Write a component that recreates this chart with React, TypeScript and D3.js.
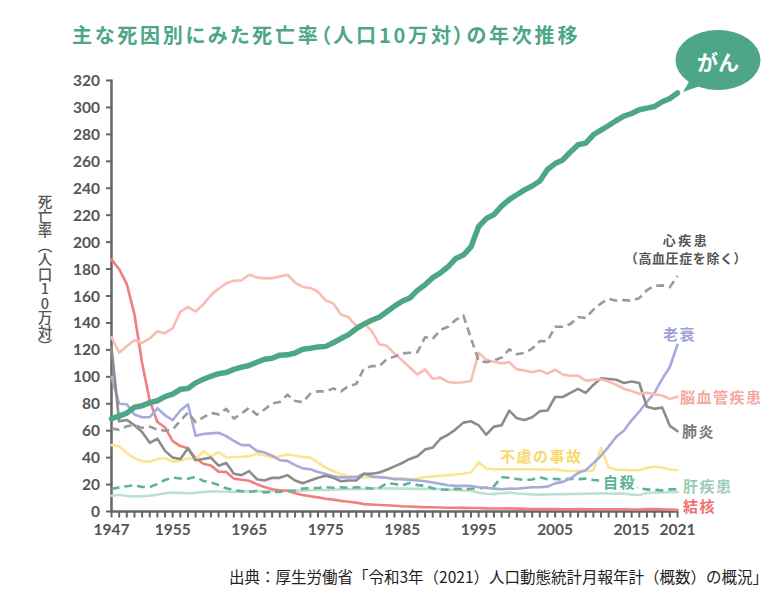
import React from 'react';
import * as d3 from 'd3';

const FIRST_YEAR = 1947;
const LAST_YEAR = 2021;
const years: number[] = d3.range(FIRST_YEAR, LAST_YEAR + 1);

const xTickLabels = [1947, 1955, 1965, 1975, 1985, 1995, 2005, 2015, 2021];
const yTickValues = [0, 20, 40, 60, 80, 100, 120, 140, 160, 180, 200, 220, 240, 260, 280, 300, 320];

const titleText = '主な死因別にみた死亡率（人口10万対）の年次推移';
const yLabelText = '死亡率（人口10万対）';
const sourceText = '出典：厚生労働省「令和3年（2021）人口動態統計月報年計（概数）の概況」';

// 悪性新生物（がん）
const cancer = [69.0, 70.8, 73.0, 77.4, 78.5, 80.8, 82.2, 85.3, 87.1, 90.7, 91.3, 95.5, 98.2, 100.4, 102.3, 103.2, 105.5, 107.2, 108.4, 110.8, 113.0, 113.8, 116.1, 116.3, 117.7, 120.4, 121.2, 122.2, 122.6, 125.3, 128.4, 131.3, 135.7, 139.1, 142.0, 144.2, 148.3, 152.5, 156.1, 158.5, 164.2, 168.4, 173.6, 177.2, 181.7, 187.8, 190.4, 196.4, 211.6, 217.5, 220.4, 226.7, 231.6, 235.2, 238.8, 241.7, 245.4, 253.9, 258.3, 261.0, 266.9, 272.3, 273.5, 279.7, 283.2, 286.6, 290.3, 293.5, 295.5, 298.3, 299.5, 300.7, 304.2, 306.6, 310.7];
// 心疾患（高血圧症を除く）
const heart = [61.7, 60.6, 63.3, 64.2, 62.1, 63.0, 60.8, 60.0, 60.9, 67.4, 73.4, 66.4, 69.8, 73.2, 72.1, 76.2, 69.0, 72.8, 77.0, 71.9, 75.7, 80.2, 81.3, 86.7, 82.0, 81.2, 87.5, 89.2, 89.2, 91.3, 89.2, 93.2, 94.6, 106.2, 107.9, 107.9, 113.0, 115.0, 117.3, 117.9, 118.4, 129.4, 128.1, 134.8, 137.2, 142.2, 145.6, 128.6, 112.0, 110.8, 112.2, 114.3, 120.4, 116.8, 117.8, 121.0, 126.5, 126.5, 137.2, 137.2, 139.2, 144.4, 143.7, 149.8, 154.5, 157.9, 156.5, 157.0, 156.5, 158.4, 164.3, 167.6, 167.9, 166.6, 174.9];
// 脳血管疾患
const cerebro = [129.4, 117.9, 122.6, 127.1, 125.2, 128.5, 133.7, 132.4, 136.1, 148.4, 151.7, 148.6, 153.7, 160.7, 165.4, 169.4, 171.4, 171.7, 175.8, 173.8, 173.1, 173.2, 174.4, 175.8, 170.0, 166.7, 166.0, 163.0, 156.7, 154.5, 146.2, 144.2, 137.7, 139.5, 134.3, 124.2, 123.0, 117.2, 112.2, 106.9, 101.7, 105.5, 98.5, 99.4, 96.2, 95.6, 96.0, 96.9, 117.9, 112.6, 111.0, 110.0, 110.8, 105.5, 104.7, 103.4, 104.7, 102.3, 105.3, 101.7, 100.8, 100.9, 97.2, 97.7, 98.2, 96.5, 94.1, 91.1, 89.4, 87.4, 88.2, 87.1, 86.1, 83.5, 85.2];
// 肺炎
const pneumonia = [122.0, 67.0, 68.0, 64.0, 59.0, 51.0, 54.0, 45.0, 40.0, 39.0, 47.0, 38.0, 39.0, 40.0, 34.0, 36.0, 28.0, 27.0, 30.0, 24.0, 23.0, 25.0, 25.0, 27.0, 23.0, 21.0, 23.0, 25.0, 26.5, 25.0, 22.5, 23.0, 23.0, 28.0, 28.0, 29.0, 31.0, 33.5, 36.0, 39.0, 41.0, 46.0, 47.5, 54.0, 57.0, 61.0, 66.0, 67.0, 64.0, 57.0, 63.0, 64.0, 74.9, 69.2, 68.0, 70.0, 74.5, 75.0, 85.0, 85.0, 88.0, 91.0, 88.0, 94.0, 98.9, 98.4, 97.8, 95.4, 96.5, 95.4, 77.7, 76.2, 77.2, 63.6, 59.6];
// 老衰
const senility = [100.0, 80.0, 79.6, 72.0, 70.0, 70.0, 76.6, 71.4, 67.8, 75.0, 79.6, 56.2, 57.5, 58.0, 58.5, 56.0, 52.5, 49.3, 49.3, 45.0, 43.8, 41.4, 38.1, 37.6, 34.4, 32.0, 31.4, 29.4, 27.8, 26.2, 25.3, 25.3, 25.5, 28.0, 26.0, 25.5, 25.0, 24.0, 24.0, 23.5, 23.0, 22.5, 21.5, 20.5, 19.5, 19.0, 19.0, 19.0, 18.0, 17.5, 17.0, 16.5, 17.0, 16.9, 17.5, 18.0, 18.0, 18.5, 20.9, 22.0, 24.4, 28.6, 30.7, 35.9, 41.4, 48.2, 55.5, 60.1, 67.7, 74.2, 81.3, 88.2, 98.5, 107.3, 123.8];
// 不慮の事故
const accidents = [49.3, 48.4, 43.5, 39.5, 37.5, 37.0, 39.0, 39.5, 37.0, 37.6, 39.5, 38.5, 44.9, 40.7, 44.2, 40.0, 40.5, 40.7, 41.1, 42.9, 41.6, 40.0, 41.0, 42.4, 41.6, 40.5, 40.0, 36.3, 32.6, 30.1, 27.6, 26.4, 25.7, 25.2, 25.2, 25.2, 25.0, 24.8, 24.6, 24.0, 24.5, 25.5, 26.0, 26.5, 27.0, 27.5, 28.0, 28.9, 36.5, 31.9, 31.4, 31.4, 31.4, 31.4, 31.4, 31.4, 31.2, 31.0, 31.6, 30.3, 30.1, 30.3, 30.0, 30.5, 47.1, 32.6, 31.0, 31.0, 30.6, 30.6, 32.4, 33.2, 32.7, 31.2, 30.8];
// 自殺
const suicide = [16.7, 17.9, 18.8, 19.6, 18.2, 18.2, 20.4, 23.4, 25.2, 24.5, 24.3, 25.7, 22.7, 21.6, 19.6, 17.2, 15.9, 15.1, 14.7, 15.2, 14.2, 14.5, 14.5, 15.3, 15.6, 17.0, 17.4, 17.5, 18.0, 17.6, 17.9, 17.6, 18.0, 17.7, 17.1, 17.5, 21.0, 20.4, 19.4, 21.2, 19.6, 19.1, 17.3, 16.4, 16.1, 16.9, 16.6, 16.9, 17.2, 17.8, 18.8, 25.4, 25.0, 24.1, 23.3, 23.8, 25.5, 24.0, 24.2, 23.7, 24.4, 24.0, 24.4, 23.4, 22.9, 21.0, 20.7, 19.5, 18.5, 17.3, 16.4, 16.1, 15.7, 16.4, 16.5];
// 肝疾患
const liver = [11.7, 12.5, 11.5, 11.2, 11.3, 11.8, 12.5, 13.5, 14.0, 13.8, 13.5, 13.8, 14.5, 14.8, 14.8, 14.7, 14.6, 14.8, 15.0, 15.0, 15.0, 15.2, 15.3, 15.4, 15.5, 15.5, 15.8, 16.0, 16.0, 16.2, 16.3, 16.5, 16.6, 16.7, 17.0, 17.2, 17.2, 17.1, 17.0, 16.9, 16.8, 16.8, 16.7, 16.7, 16.4, 16.0, 15.6, 15.4, 13.9, 13.2, 12.9, 13.5, 14.0, 13.4, 13.0, 12.6, 12.5, 12.6, 12.8, 12.9, 13.0, 13.1, 13.2, 13.4, 13.5, 13.4, 13.3, 13.3, 12.5, 12.3, 13.8, 14.1, 14.2, 14.3, 14.5];
// 結核
const tb = [187.2, 179.9, 168.8, 146.4, 110.3, 82.2, 66.5, 62.4, 52.3, 48.6, 46.9, 39.5, 35.4, 34.2, 29.6, 29.3, 24.4, 23.6, 22.8, 20.3, 18.2, 16.5, 15.8, 15.4, 13.5, 12.2, 11.3, 10.5, 9.5, 8.8, 7.9, 7.2, 6.6, 5.5, 5.2, 4.8, 4.6, 4.3, 3.9, 3.7, 3.4, 3.2, 3.1, 3.0, 2.8, 2.8, 2.7, 2.6, 2.6, 2.3, 2.2, 2.2, 2.3, 2.1, 2.0, 1.8, 1.9, 1.8, 1.8, 1.7, 1.7, 1.8, 1.7, 1.7, 1.7, 1.7, 1.7, 1.7, 1.5, 1.5, 1.8, 1.8, 1.7, 1.4, 1.2];

const seriesList = [
  { key: 'liver', values: liver, color: '#bde0d0', width: 2.6, dash: '' },
  { key: 'tb', values: tb, color: '#f27f7c', width: 2.6, dash: '' },
  { key: 'suicide', values: suicide, color: '#5db596', width: 2.6, dash: '8,5' },
  { key: 'accidents', values: accidents, color: '#fde58f', width: 2.6, dash: '' },
  { key: 'senility', values: senility, color: '#a7aadb', width: 2.6, dash: '' },
  { key: 'pneumonia', values: pneumonia, color: '#8c8c8c', width: 2.6, dash: '' },
  { key: 'cerebro', values: cerebro, color: '#f8bcb1', width: 2.6, dash: '' },
  { key: 'heart', values: heart, color: '#9a9a9a', width: 2.6, dash: '8,5' },
  { key: 'cancer', values: cancer, color: '#4da688', width: 5.5, dash: '' },
];

const labels = [
  { text: '老衰', x: 663, y: 340, color: '#9ea2d8', bg: false },
  { text: '脳血管疾患', x: 680, y: 403, color: '#f4a99f', bg: false },
  { text: '肺炎', x: 682, y: 437, color: '#7a7a7a', bg: false },
  { text: '不慮の事故', x: 500, y: 462, color: '#f9d96e', bg: false },
  { text: '自殺', x: 603, y: 488, color: '#5db596', bg: true },
  { text: '肝疾患', x: 683, y: 492, color: '#9acbb5', bg: false },
  { text: '結核', x: 683, y: 512, color: '#f0706d', bg: false },
];

const FONT = '"Noto Sans CJK JP", "Noto Sans", sans-serif';
const NUM_FONT = 'Lato, "Noto Sans", sans-serif';

export default function App() {
  const x = d3.scaleLinear().domain([FIRST_YEAR, LAST_YEAR]).range([111.5, 677.5]);
  const y = d3.scaleLinear().domain([0, 320]).range([511.5, 80.5]);
  const line = d3
    .line<number>()
    .x((_, i) => x(years[i]))
    .y((d) => y(d))
    .curve(d3.curveLinear);

  return (
    <svg
      width={782}
      height={604}
      style={{ position: 'absolute', left: 0, top: 0, background: '#fff' }}
      fontFamily={FONT}
    >
      <rect x={0} y={0} width={782} height={604} fill="#fff" />
      {/* Title */}
      <text
        x={72}
        y={43}
        fill="#4da688"
        fontSize={20}
        fontWeight={700}
        letterSpacing={2.8}
        style={{ fontFeatureSettings: '"palt"' }}
      >
        {titleText}
      </text>

      {/* Y axis label (vertical) */}
      <text
        x={45}
        y={274}
        fill="#555"
        fontSize={14.5}
        fontWeight={500}
        textAnchor="middle"
        style={{ writingMode: 'vertical-rl', textOrientation: 'upright' } as React.CSSProperties}
      >
        {yLabelText}
      </text>

      {/* Y axis */}
      <line x1={111.5} x2={111.5} y1={y(320) - 1} y2={y(0) + 1} stroke="#666" strokeWidth={2.5} />
      {yTickValues.map((v) => (
        <g key={v}>
          <line x1={106} x2={111.5} y1={y(v)} y2={y(v)} stroke="#666" strokeWidth={2} />
          <text
            x={100}
            y={y(v) + 5.5}
            textAnchor="end"
            fill="#555"
            fontFamily={NUM_FONT}
            fontSize={15.5}
            fontWeight={700}
          >
            {v}
          </text>
        </g>
      ))}

      {/* X axis */}
      <line x1={110.5} x2={678.5} y1={y(0)} y2={y(0)} stroke="#666" strokeWidth={2.5} />
      {years.map((yr) => (
        <line key={yr} x1={x(yr)} x2={x(yr)} y1={y(0)} y2={y(0) + 6} stroke="#666" strokeWidth={2} />
      ))}
      {xTickLabels.map((yr) => (
        <text
          key={yr}
          x={x(yr)}
          y={535}
          textAnchor="middle"
          fill="#555"
          fontFamily={NUM_FONT}
          fontSize={15.5}
          fontWeight={700}
        >
          {yr}
        </text>
      ))}

      {/* Series lines */}
      {seriesList.map((s) => (
        <path
          key={s.key}
          d={line(s.values) || ''}
          fill="none"
          stroke={s.color}
          strokeWidth={s.width}
          strokeDasharray={s.dash || undefined}
          strokeLinejoin="round"
          strokeLinecap={s.dash ? 'butt' : 'round'}
        />
      ))}

      {/* Heart disease label */}
      <text x={686} y={245} textAnchor="middle" fill="#555" fontSize={13} fontWeight={700} letterSpacing={2.5}>
        心疾患
      </text>
      <text x={686} y={263} textAnchor="middle" fill="#555" fontSize={13} fontWeight={700} letterSpacing={0.6}>
        （高血圧症を除く）
      </text>

      {/* Other labels */}
      {labels.map((l) => (
        <g key={l.text}>
          {l.bg && <rect x={l.x - 4} y={l.y - 15} width={38} height={17} fill="#fff" />}
          <text x={l.x} y={l.y} fill={l.color} fontSize={15} fontWeight={700} letterSpacing={1.5}>
            {l.text}
          </text>
        </g>
      ))}

      {/* Bubble */}
      <path d="M 690 80 L 683 92 L 700 86 Z" fill="#4da688" />
      <ellipse cx={718} cy={60} rx={42.5} ry={30} fill="#4da688" />
      <text x={718} y={61} textAnchor="middle" dominantBaseline="central" fill="#fff" fontSize={21} fontWeight={700}>
        がん
      </text>

      {/* Source */}
      <text x={768} y={583} textAnchor="end" fill="#222" fontSize={15.5}>
        {sourceText}
      </text>
    </svg>
  );
}
